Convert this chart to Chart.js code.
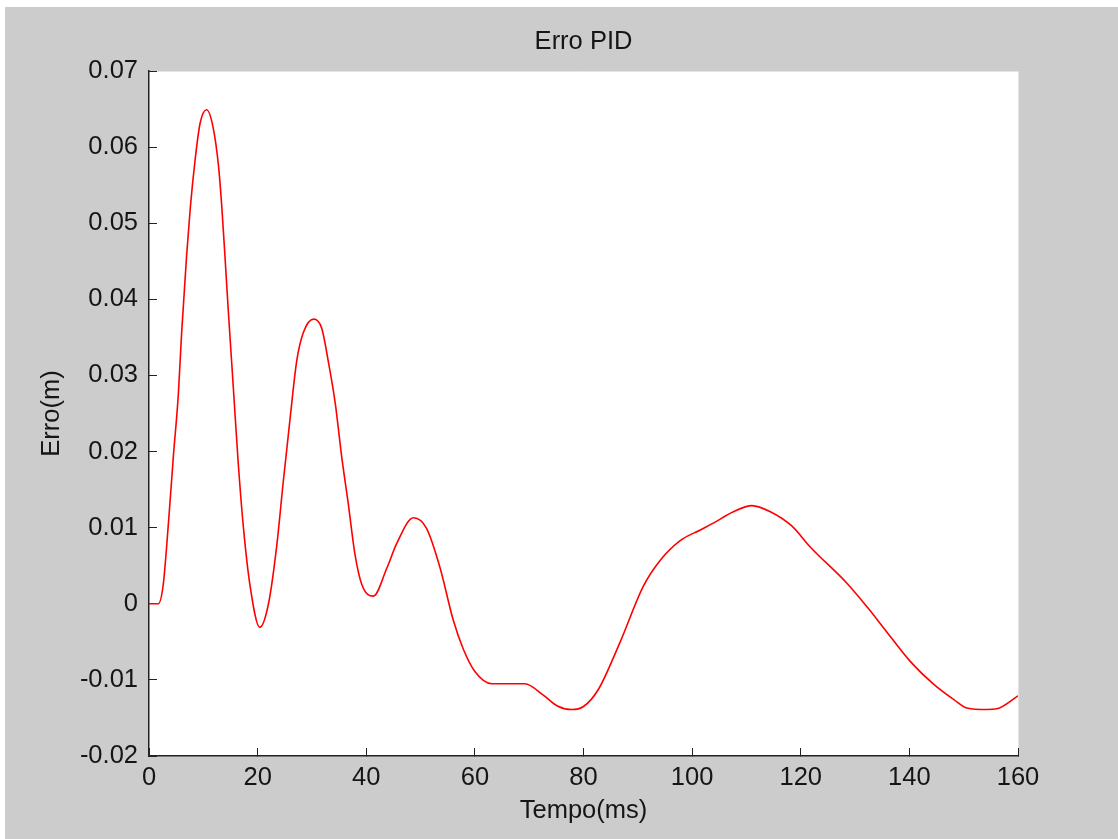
<!DOCTYPE html>
<html>
<head>
<meta charset="utf-8">
<title>Erro PID</title>
<script src="https://cdn.jsdelivr.net/npm/chart.js"></script>
<style>
  body { margin: 0; background: #ffffff; }
  #wrap { position: absolute; left: 5px; top: 7px; width: 1113px; height: 832px; }
</style>
</head>
<body>
<div id="wrap"><canvas id="erroChart" width="1113" height="832"></canvas></div>
<script>
// Error curve (time in ms, error in m)
const tempoMs = [
  0, 1.7, 2.6, 3.6, 4.5, 5.4, 6.0, 6.9, 7.6, 8.5, 9.4, 10.6, 11.8, 12.8, 13.4, 14.0, 14.6,
  15.5, 16.4, 17.4, 18.6, 20.4, 22.0, 23.5, 24.7, 26.0, 27.2, 28.4, 30.3, 31.8, 33.0, 34.3,
  35.5, 36.7, 37.9, 39.2, 41.3, 43.8, 45.6, 48.7, 51.1, 53.6, 56.0, 57.9, 60.0, 63.1, 69.2,
  72.6, 75.1, 77.8, 80.0, 82.7, 86.7, 91.0, 94.1, 97.8, 101.5, 103.9, 107.6, 111.0, 114.4,
  118.4, 121.7, 128.5, 132.2, 135.3, 140.2, 144.5, 148.2, 150.6, 154.3, 156.1, 160
];
const erroM = [
  0, 0, 0.0024, 0.0108, 0.0195, 0.0275, 0.0355, 0.0455, 0.052, 0.0584, 0.0631, 0.0649, 0.0626,
  0.0575, 0.0522, 0.0455, 0.0385, 0.0287, 0.0188, 0.0099, 0.0024, -0.0031, 0, 0.0075, 0.0159,
  0.0245, 0.0319, 0.0356, 0.0374, 0.0362, 0.0319, 0.0263, 0.0192, 0.0131, 0.0066, 0.0025,
  0.001, 0.0047, 0.0079, 0.0113, 0.0099, 0.0047, -0.0021, -0.006, -0.0089, -0.0105, -0.0105,
  -0.012, -0.0134, -0.0139, -0.0135, -0.0113, -0.0051, 0.0023, 0.0057, 0.0083, 0.0097, 0.0106,
  0.0121, 0.0129, 0.0121, 0.0102, 0.0075, 0.0027, -0.0004, -0.0032, -0.0076, -0.0106, -0.0126,
  -0.0137, -0.0139, -0.0138, -0.0121
];
const xTicks = [0, 20, 40, 60, 80, 100, 120, 140, 160];
const yTicks = [-0.02, -0.01, 0, 0.01, 0.02, 0.03, 0.04, 0.05, 0.06, 0.07];

const txtFont = { family: "'Liberation Sans', Arial, sans-serif", size: 25.5 };
const txtColor = "#151515";
const axisColor = "#222222";

// gray figure + white axes box, like a MATLAB figure
const figureBg = {
  id: "figureBg",
  beforeDraw(chart) {
    const { ctx, chartArea: a } = chart;
    ctx.save();
    ctx.fillStyle = "#cccccc";
    ctx.fillRect(0, 0, chart.width, chart.height);
    ctx.fillStyle = "#ffffff";
    ctx.fillRect(a.left, a.top, a.right - a.left, a.bottom - a.top);
    ctx.strokeStyle = "#e4e4e4";
    ctx.lineWidth = 1;
    ctx.beginPath();
    ctx.moveTo(a.left, a.top + 0.5);
    ctx.lineTo(a.right + 0.5, a.top + 0.5);
    ctx.lineTo(a.right + 0.5, a.bottom);
    ctx.stroke();
    ctx.restore();
  }
};

const points = tempoMs.map((t, i) => ({ x: t, y: erroM[i] }));

new Chart(document.getElementById("erroChart").getContext("2d"), {
  type: "line",
  data: {
    datasets: [{
      data: points,
      borderColor: "#ff0000",
      borderWidth: 1.6,
      pointRadius: 0,
      fill: false,
      cubicInterpolationMode: "monotone",
    }],
  },
  options: {
    responsive: false,
    animation: false,
    layout: { padding: { top: 0, left: 0, right: 100, bottom: 0 } },
    plugins: {
      legend: { display: false },
      tooltip: { enabled: false },
      title: {
        display: true,
        text: "Erro PID",
        fullSize: false,
        color: txtColor,
        font: { ...txtFont, weight: "normal" },
        padding: { top: 19.4, bottom: 14 },
      },
    },
    scales: {
      x: {
        type: "linear",
        min: 0,
        max: 160,
        afterFit: s => { s.height = 83; },
        afterBuildTicks: s => { s.ticks = xTicks.map(v => ({ value: v })); },
        grid: { drawOnChartArea: false, drawTicks: true, tickLength: -8, color: axisColor },
        border: { display: true, color: axisColor, width: 1.5 },
        ticks: { color: txtColor, font: txtFont, padding: 14.7, maxRotation: 0 },
        title: {
          display: true,
          text: "Tempo(ms)",
          color: txtColor,
          font: txtFont,
          padding: { top: 0, bottom: 12.7 },
        },
      },
      y: {
        type: "linear",
        min: -0.02,
        max: 0.07,
        afterFit: s => { s.width = 144; },
        afterBuildTicks: s => { s.ticks = yTicks.map(v => ({ value: v })); },
        grid: { drawOnChartArea: false, drawTicks: true, tickLength: -8, color: axisColor },
        border: { display: true, color: axisColor, width: 1.5 },
        ticks: {
          color: txtColor,
          font: txtFont,
          padding: 19,
          callback: v => String(Number(v.toFixed(2))),
        },
        title: {
          display: true,
          text: "Erro(m)",
          color: txtColor,
          font: txtFont,
          padding: { top: 31.7, bottom: 0 },
        },
      },
    },
  },
  plugins: [figureBg],
});
</script>
</body>
</html>
